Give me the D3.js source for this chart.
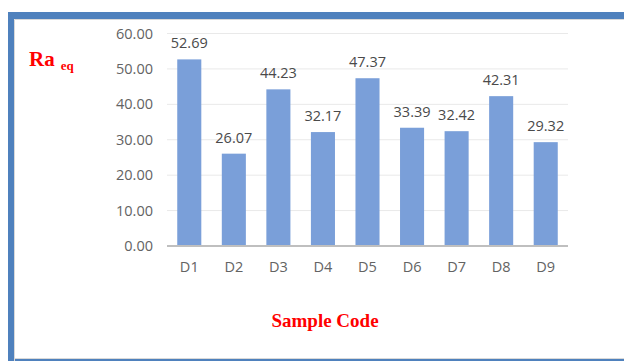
<!DOCTYPE html>
<html>
<head>
<meta charset="utf-8">
<script src="https://cdn.jsdelivr.net/npm/d3@7"></script>
<style>
  html, body { margin: 0; padding: 0; background: #fff; }
  svg { display: block; }
</style>
</head>
<body>
<svg id="chart" width="624" height="361"></svg>
<script>
// Equivalent radium activity per sample
const categories = ["D1", "D2", "D3", "D4", "D5", "D6", "D7", "D8", "D9"];
const raEq = [52.69, 26.07, 44.23, 32.17, 47.37, 33.39, 32.42, 42.31, 29.32];
const yTicks = [0, 10, 20, 30, 40, 50, 60];

const svg = d3.select("#chart");
const W = 624, H = 361;
const FONT = "'Open Sans', sans-serif";

// Outer frame: thick blue band on the left and top, thin one at the bottom
svg.append("rect").attr("x", 0).attr("y", 0).attr("width", W).attr("height", H).attr("fill", "#fff");
svg.append("rect").attr("x", 8).attr("y", 12).attr("width", W - 8).attr("height", 7).attr("fill", "#4f81bd");
svg.append("rect").attr("x", 8).attr("y", 12).attr("width", 6).attr("height", H - 12).attr("fill", "#4f81bd");
svg.append("rect").attr("x", 8).attr("y", 359).attr("width", W - 8).attr("height", 2).attr("fill", "#4f81bd");
// thin inner border
svg.append("path")
  .attr("d", `M14.5,${H} L14.5,19.5 L${W},19.5 M14.5,358.5 L${W},358.5`)
  .attr("fill", "none").attr("stroke", "#d9d9d9").attr("stroke-width", 1);

const plot = { left: 167, right: 568, top: 33.5, bottom: 246 };

const x = d3.scaleBand().domain(categories).range([plot.left, plot.right]).paddingInner(0.46).paddingOuter(0.23);
const y = d3.scaleLinear().domain([0, 60]).range([plot.bottom, plot.top]);

// gridlines
const grid = svg.append("g");
grid.selectAll("line").data(yTicks.filter(d => d > 0)).join("line")
  .attr("x1", plot.left).attr("x2", plot.right)
  .attr("y1", d => y(d)).attr("y2", d => y(d))
  .attr("stroke", "#e9e9e9").attr("stroke-width", 1);

// y axis labels
const yAxis = d3.axisLeft(y).tickValues(yTicks).tickFormat(d3.format(".2f")).tickSize(0).tickPadding(0);
const ya = svg.append("g").attr("transform", `translate(153,0)`).call(yAxis);
ya.select(".domain").remove();
ya.selectAll("text").attr("fill", "#636363").attr("font-family", FONT).attr("font-size", 14.5);

// bars
svg.append("g").selectAll("rect").data(raEq).join("rect")
  .attr("x", (d, i) => x(categories[i]))
  .attr("width", x.bandwidth())
  .attr("y", d => y(d))
  .attr("height", d => y(0) - y(d))
  .attr("fill", "#7a9fd9");

// value labels
svg.append("g").selectAll("text").data(raEq).join("text")
  .attr("x", (d, i) => x(categories[i]) + x.bandwidth() / 2)
  .attr("y", d => y(d) - 11)
  .attr("text-anchor", "middle")
  .attr("fill", "#4a4a4a")
  .attr("font-family", FONT).attr("font-size", 14.5)
  .text(d => d3.format(".2f")(d));

// x axis
const xAxis = d3.axisBottom(x).tickSize(0).tickPadding(16);
const xa = svg.append("g").attr("transform", `translate(0,${plot.bottom})`).call(xAxis);
xa.select(".domain").attr("stroke", "#bfbfbf").attr("stroke-width", 2).attr("d", `M${plot.left},0H${plot.right}`);
xa.selectAll("text").attr("fill", "#636363").attr("font-family", FONT).attr("font-size", 14.5);

// axis titles
const yt = svg.append("text").attr("x", 29).attr("y", 66)
  .attr("fill", "#ff0000").attr("font-family", "'Liberation Serif', serif").attr("font-weight", "bold");
yt.append("tspan").attr("font-size", 21).text("Ra");
yt.append("tspan").attr("font-size", 13).attr("dx", 6).attr("dy", 4).text("eq");

svg.append("text").attr("x", 325).attr("y", 327)
  .attr("text-anchor", "middle")
  .attr("fill", "#ff0000").attr("font-family", "'Liberation Serif', serif")
  .attr("font-weight", "bold").attr("font-size", 19)
  .text("Sample Code");
</script>
</body>
</html>
